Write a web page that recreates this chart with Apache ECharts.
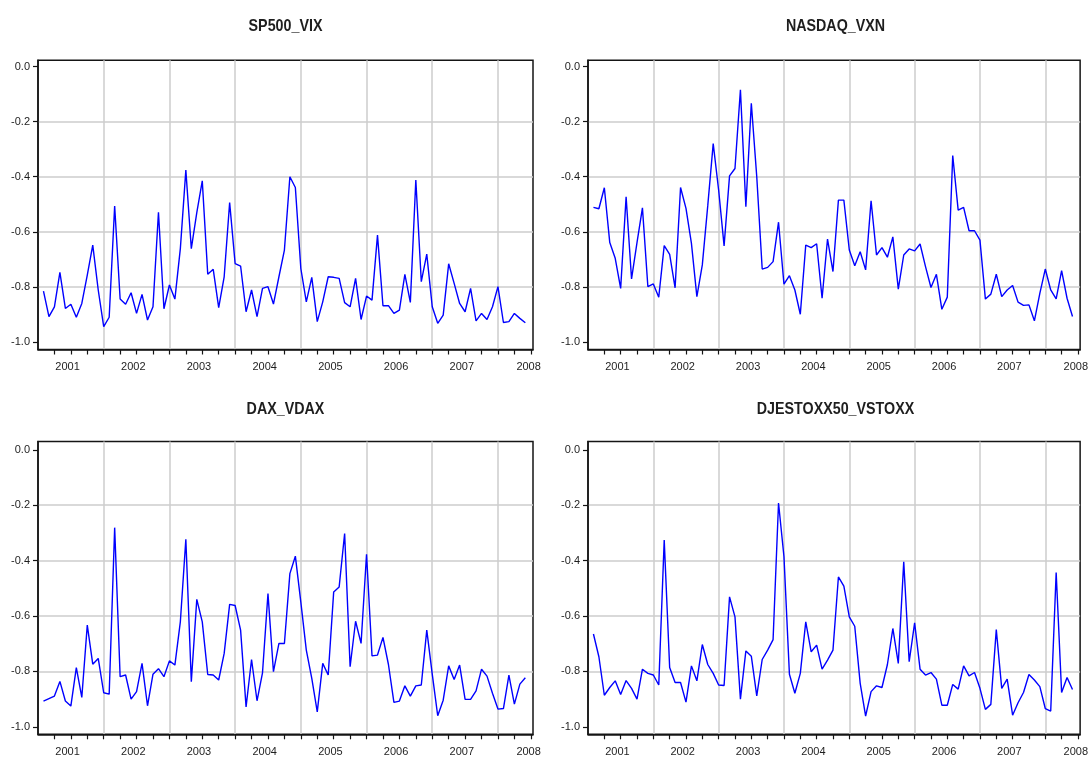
<!DOCTYPE html>
<html><head><meta charset="utf-8">
<script src="https://cdn.jsdelivr.net/npm/echarts@6/dist/echarts.min.js"></script>
<style>html,body{margin:0;padding:0;background:#fff}#c{width:1091px;height:758px}</style>
</head><body><div id="c"></div>
<script>
// first observation: February 2001, monthly
const startYear = 2001, startMonth = 2;
const yearLabels = ['2001','2002','2003','2004','2005','2006','2007','2008'];
const yTickValues = [-1.0, -0.8, -0.6, -0.4, -0.2, 0.0];
const titles = ['SP500_VIX', 'NASDAQ_VXN', 'DAX_VDAX', 'DJESTOXX50_VSTOXX'];

const sp500Vix = [-0.815,-0.908,-0.872,-0.747,-0.878,-0.863,-0.910,-0.860,-0.757,-0.648,-0.811,-0.944,-0.910,-0.506,-0.844,-0.863,-0.821,-0.896,-0.827,-0.920,-0.872,-0.529,-0.879,-0.793,-0.844,-0.660,-0.376,-0.661,-0.530,-0.415,-0.754,-0.736,-0.875,-0.763,-0.494,-0.715,-0.724,-0.890,-0.811,-0.908,-0.805,-0.799,-0.862,-0.763,-0.666,-0.400,-0.439,-0.733,-0.854,-0.765,-0.926,-0.854,-0.763,-0.765,-0.769,-0.857,-0.872,-0.769,-0.918,-0.833,-0.848,-0.612,-0.868,-0.868,-0.896,-0.884,-0.754,-0.856,-0.412,-0.781,-0.681,-0.872,-0.932,-0.902,-0.716,-0.787,-0.860,-0.890,-0.805,-0.923,-0.896,-0.918,-0.872,-0.799,-0.929,-0.926,-0.896,-0.914,-0.930];
const nasdaqVxn = [-0.511,-0.516,-0.440,-0.639,-0.696,-0.805,-0.473,-0.771,-0.639,-0.513,-0.799,-0.789,-0.837,-0.650,-0.682,-0.803,-0.439,-0.515,-0.642,-0.835,-0.720,-0.505,-0.280,-0.449,-0.651,-0.397,-0.370,-0.084,-0.509,-0.133,-0.400,-0.735,-0.729,-0.708,-0.565,-0.790,-0.759,-0.811,-0.899,-0.648,-0.657,-0.643,-0.841,-0.626,-0.744,-0.485,-0.485,-0.666,-0.723,-0.672,-0.738,-0.487,-0.684,-0.657,-0.692,-0.618,-0.808,-0.684,-0.662,-0.669,-0.644,-0.726,-0.802,-0.754,-0.881,-0.837,-0.323,-0.521,-0.511,-0.596,-0.596,-0.630,-0.844,-0.826,-0.754,-0.835,-0.811,-0.795,-0.855,-0.867,-0.865,-0.923,-0.823,-0.735,-0.811,-0.843,-0.741,-0.841,-0.907];
const daxVdax = [-0.907,-0.898,-0.889,-0.836,-0.907,-0.925,-0.786,-0.894,-0.633,-0.774,-0.753,-0.877,-0.882,-0.281,-0.819,-0.813,-0.900,-0.873,-0.771,-0.924,-0.810,-0.790,-0.819,-0.762,-0.777,-0.620,-0.323,-0.837,-0.540,-0.621,-0.811,-0.813,-0.831,-0.735,-0.558,-0.562,-0.651,-0.928,-0.757,-0.906,-0.805,-0.519,-0.801,-0.699,-0.699,-0.447,-0.384,-0.550,-0.723,-0.825,-0.946,-0.771,-0.813,-0.513,-0.495,-0.302,-0.783,-0.619,-0.699,-0.377,-0.744,-0.741,-0.677,-0.775,-0.912,-0.907,-0.852,-0.889,-0.852,-0.849,-0.651,-0.810,-0.960,-0.904,-0.780,-0.829,-0.777,-0.901,-0.901,-0.870,-0.792,-0.817,-0.879,-0.936,-0.934,-0.813,-0.918,-0.846,-0.823];
const djEstoxx50Vstoxx = [-0.665,-0.747,-0.886,-0.858,-0.834,-0.883,-0.833,-0.861,-0.900,-0.792,-0.807,-0.813,-0.849,-0.326,-0.786,-0.840,-0.840,-0.911,-0.780,-0.834,-0.703,-0.775,-0.807,-0.849,-0.851,-0.531,-0.603,-0.900,-0.726,-0.745,-0.888,-0.757,-0.723,-0.685,-0.192,-0.386,-0.810,-0.879,-0.807,-0.621,-0.729,-0.705,-0.792,-0.759,-0.723,-0.459,-0.492,-0.603,-0.637,-0.843,-0.961,-0.873,-0.852,-0.858,-0.775,-0.645,-0.771,-0.404,-0.765,-0.625,-0.792,-0.813,-0.804,-0.828,-0.922,-0.922,-0.847,-0.864,-0.780,-0.816,-0.804,-0.861,-0.937,-0.919,-0.649,-0.861,-0.828,-0.958,-0.913,-0.876,-0.811,-0.831,-0.855,-0.934,-0.943,-0.443,-0.876,-0.822,-0.865];

const seriesValues = [sp500Vix, nasdaqVxn, daxVdax, djEstoxx50Vstoxx];

// observation dates (YYYY-MM)
const dates = sp500Vix.map((_, i) => {
  const m = startMonth - 1 + i;
  return (startYear + Math.floor(m / 12)) + '-' + String(m % 12 + 1).padStart(2, '0');
});
// months elapsed since January 2001
function monthPos(d) {
  const p = d.split('-').map(Number);
  return (p[0] - 2001) * 12 + (p[1] - 1);
}

const xMax = 90.4;
const quarterTicks = [];
for (let q = 3; q < xMax; q += 3) quarterTicks.push(q);
const labelPos = yearLabels.map((y, i) => i < yearLabels.length - 1 ? i * 12 + 5.4 : 89.6);

const panels = [
  {left: 38,  top: 60.2,  width: 495, height: 289.3, yMax: 0.023, titleY: 26.5},
  {left: 588, top: 60.2,  width: 495, height: 289.3, yMax: 0.023, titleY: 26.5},
  {left: 38,  top: 441.5, width: 495, height: 292.8, yMax: 0.030, titleY: 409.6},
  {left: 588, top: 441.5, width: 495, height: 292.8, yMax: 0.030, titleY: 409.6}
];
const yMin = -1.027;

const frameColor = '#151515';
const gridColor = '#cdcdcd';
const textColor = '#1e1e1e';
const labelFont = "'Liberation Sans', Arial, sans-serif";

const grids = [], xAxes = [], yAxes = [], series = [], graphics = [];
panels.forEach((p, i) => {
  grids.push({left: p.left, top: p.top, width: p.width, height: p.height, show: true,
    borderColor: frameColor, borderWidth: 1.5, backgroundColor: 'transparent'});
  // axis carrying the year grid lines
  xAxes.push({type: 'value', gridIndex: i, min: 0, max: xMax, interval: 12, position: 'bottom',
    axisLine: {show: true, onZero: false, lineStyle: {color: frameColor, width: 1.5}},
    axisTick: {show: false}, axisLabel: {show: false},
    splitLine: {show: true, showMinLine: false, showMaxLine: false, lineStyle: {color: gridColor, width: 1.5}}
  });
  // axis carrying quarter ticks and year labels
  xAxes.push({type: 'value', gridIndex: i, min: 0, max: xMax, position: 'bottom',
    axisLine: {show: false, onZero: false},
    axisTick: {show: true, length: 5, customValues: quarterTicks, lineStyle: {color: frameColor, width: 1.2}},
    axisLabel: {show: true, customValues: labelPos, margin: 12, fontSize: 11, color: textColor, fontFamily: labelFont,
      formatter: v => yearLabels[Math.min(yearLabels.length - 1, Math.floor(v / 12))]},
    splitLine: {show: false}
  });
  yAxes.push({type: 'value', gridIndex: i, min: yMin, max: p.yMax,
    axisLine: {show: true, onZero: false, lineStyle: {color: frameColor, width: 1.5}},
    axisTick: {show: true, length: 5, customValues: yTickValues, lineStyle: {color: frameColor, width: 1.2}},
    axisLabel: {customValues: yTickValues, margin: 8, fontSize: 11, color: textColor, fontFamily: labelFont,
      formatter: v => v.toFixed(1)},
    splitLine: {show: true, showMinLine: false, showMaxLine: false, lineStyle: {color: gridColor, width: 1.5}}
  });
  series.push({type: 'line', name: titles[i], xAxisIndex: 2 * i, yAxisIndex: i,
    data: dates.map((d, j) => [monthPos(d), seriesValues[i][j]]),
    showSymbol: false, symbol: 'none', lineStyle: {color: '#0000ff', width: 1.4}, silent: true});
  graphics.push({type: 'text', x: p.left + p.width / 2, y: p.titleY, scaleX: 0.84,
    style: {text: titles[i], font: "bold 17px 'Liberation Sans', Arial, sans-serif",
      textAlign: 'center', textVerticalAlign: 'middle', fill: textColor}});
});

const chart = echarts.init(document.getElementById('c'), null, {renderer: 'canvas'});
chart.setOption({
  animation: false,
  backgroundColor: '#ffffff',
  grid: grids, xAxis: xAxes, yAxis: yAxes, series: series, graphic: graphics
});
</script>
</body></html>
